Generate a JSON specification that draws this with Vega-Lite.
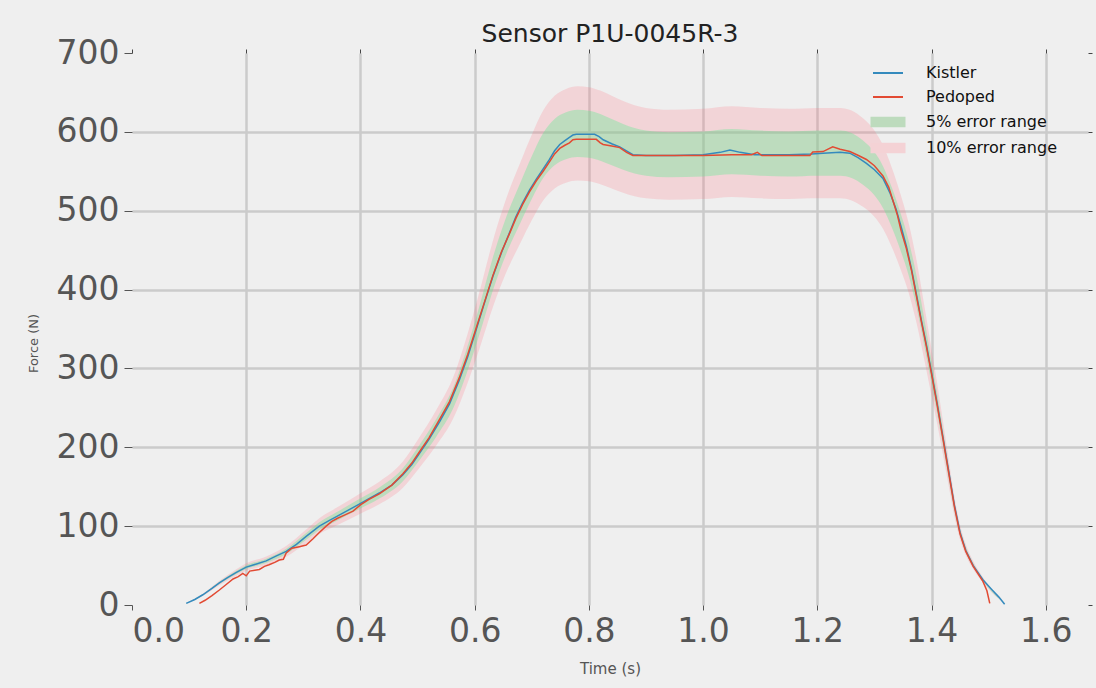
{
  "$schema": "https://vega.github.io/schema/vega-lite/v6.json",
  "autosize": "none",
  "width": 956,
  "height": 552,
  "padding": {"left": 132, "top": 53, "right": 8, "bottom": 83},
  "background": "#efefef",
  "title": {"text": "Sensor P1U-0045R-3", "font": "DejaVu Sans", "fontSize": 25, "fontWeight": "normal", "color": "#222222", "offset": 11, "dy": 41, "baseline": "alphabetic", "anchor": "middle"},
  "config": {
    "view": {"stroke": null, "fill": "#efefef"},
    "font": "DejaVu Sans"
  },
  "resolve": {"axis": {"x": "independent", "y": "independent"}},
  "datasets": {
    "lines": [
      {"t":0.095,"F":2,"s":"Kistler"},{"t":0.11,"F":7,"s":"Kistler"},{"t":0.124,"F":13,"s":"Kistler"},{"t":0.14,"F":21,"s":"Kistler"},{"t":0.153,"F":28,"s":"Kistler"},{"t":0.168,"F":35,"s":"Kistler"},{"t":0.182,"F":41,"s":"Kistler"},{"t":0.2,"F":48,"s":"Kistler"},{"t":0.218,"F":52,"s":"Kistler"},{"t":0.235,"F":56,"s":"Kistler"},{"t":0.252,"F":62,"s":"Kistler"},{"t":0.27,"F":68,"s":"Kistler"},{"t":0.288,"F":77,"s":"Kistler"},{"t":0.305,"F":87,"s":"Kistler"},{"t":0.328,"F":100,"s":"Kistler"},{"t":0.345,"F":107,"s":"Kistler"},{"t":0.358,"F":112,"s":"Kistler"},{"t":0.378,"F":120,"s":"Kistler"},{"t":0.398,"F":128,"s":"Kistler"},{"t":0.415,"F":135,"s":"Kistler"},{"t":0.433,"F":142,"s":"Kistler"},{"t":0.455,"F":152,"s":"Kistler"},{"t":0.474,"F":165,"s":"Kistler"},{"t":0.49,"F":178,"s":"Kistler"},{"t":0.504,"F":193,"s":"Kistler"},{"t":0.52,"F":210,"s":"Kistler"},{"t":0.539,"F":233,"s":"Kistler"},{"t":0.556,"F":255,"s":"Kistler"},{"t":0.573,"F":285,"s":"Kistler"},{"t":0.588,"F":315,"s":"Kistler"},{"t":0.603,"F":350,"s":"Kistler"},{"t":0.618,"F":385,"s":"Kistler"},{"t":0.632,"F":417,"s":"Kistler"},{"t":0.647,"F":447,"s":"Kistler"},{"t":0.661,"F":472,"s":"Kistler"},{"t":0.672,"F":492,"s":"Kistler"},{"t":0.684,"F":510,"s":"Kistler"},{"t":0.696,"F":526,"s":"Kistler"},{"t":0.708,"F":540,"s":"Kistler"},{"t":0.72,"F":553,"s":"Kistler"},{"t":0.731,"F":565,"s":"Kistler"},{"t":0.74,"F":576,"s":"Kistler"},{"t":0.749,"F":584,"s":"Kistler"},{"t":0.758,"F":589,"s":"Kistler"},{"t":0.766,"F":593,"s":"Kistler"},{"t":0.772,"F":596,"s":"Kistler"},{"t":0.778,"F":597,"s":"Kistler"},{"t":0.795,"F":597,"s":"Kistler"},{"t":0.81,"F":597,"s":"Kistler"},{"t":0.818,"F":594,"s":"Kistler"},{"t":0.825,"F":590,"s":"Kistler"},{"t":0.84,"F":585,"s":"Kistler"},{"t":0.854,"F":581,"s":"Kistler"},{"t":0.868,"F":575,"s":"Kistler"},{"t":0.877,"F":571,"s":"Kistler"},{"t":0.9,"F":570,"s":"Kistler"},{"t":0.95,"F":570,"s":"Kistler"},{"t":1.0,"F":571,"s":"Kistler"},{"t":1.03,"F":574,"s":"Kistler"},{"t":1.047,"F":577,"s":"Kistler"},{"t":1.065,"F":574,"s":"Kistler"},{"t":1.09,"F":571,"s":"Kistler"},{"t":1.15,"F":571,"s":"Kistler"},{"t":1.19,"F":572,"s":"Kistler"},{"t":1.21,"F":573,"s":"Kistler"},{"t":1.24,"F":574,"s":"Kistler"},{"t":1.257,"F":573,"s":"Kistler"},{"t":1.272,"F":567,"s":"Kistler"},{"t":1.286,"F":560,"s":"Kistler"},{"t":1.3,"F":552,"s":"Kistler"},{"t":1.315,"F":541,"s":"Kistler"},{"t":1.327,"F":523,"s":"Kistler"},{"t":1.338,"F":502,"s":"Kistler"},{"t":1.347,"F":479,"s":"Kistler"},{"t":1.356,"F":455,"s":"Kistler"},{"t":1.365,"F":426,"s":"Kistler"},{"t":1.373,"F":396,"s":"Kistler"},{"t":1.382,"F":362,"s":"Kistler"},{"t":1.391,"F":330,"s":"Kistler"},{"t":1.4,"F":295,"s":"Kistler"},{"t":1.41,"F":255,"s":"Kistler"},{"t":1.42,"F":213,"s":"Kistler"},{"t":1.43,"F":170,"s":"Kistler"},{"t":1.44,"F":127,"s":"Kistler"},{"t":1.45,"F":92,"s":"Kistler"},{"t":1.46,"F":69,"s":"Kistler"},{"t":1.473,"F":50,"s":"Kistler"},{"t":1.49,"F":32,"s":"Kistler"},{"t":1.505,"F":20,"s":"Kistler"},{"t":1.518,"F":10,"s":"Kistler"},{"t":1.528,"F":1,"s":"Kistler"},
      {"t":0.118,"F":2,"s":"Pedoped"},{"t":0.128,"F":6,"s":"Pedoped"},{"t":0.14,"F":12,"s":"Pedoped"},{"t":0.153,"F":19,"s":"Pedoped"},{"t":0.165,"F":26,"s":"Pedoped"},{"t":0.177,"F":33,"s":"Pedoped"},{"t":0.186,"F":36,"s":"Pedoped"},{"t":0.194,"F":40,"s":"Pedoped"},{"t":0.2,"F":37,"s":"Pedoped"},{"t":0.206,"F":43,"s":"Pedoped"},{"t":0.215,"F":44,"s":"Pedoped"},{"t":0.223,"F":45,"s":"Pedoped"},{"t":0.232,"F":49,"s":"Pedoped"},{"t":0.24,"F":51,"s":"Pedoped"},{"t":0.25,"F":54,"s":"Pedoped"},{"t":0.258,"F":57,"s":"Pedoped"},{"t":0.265,"F":58,"s":"Pedoped"},{"t":0.27,"F":66,"s":"Pedoped"},{"t":0.28,"F":72,"s":"Pedoped"},{"t":0.293,"F":74,"s":"Pedoped"},{"t":0.305,"F":76,"s":"Pedoped"},{"t":0.317,"F":84,"s":"Pedoped"},{"t":0.328,"F":92,"s":"Pedoped"},{"t":0.34,"F":100,"s":"Pedoped"},{"t":0.35,"F":106,"s":"Pedoped"},{"t":0.36,"F":110,"s":"Pedoped"},{"t":0.372,"F":114,"s":"Pedoped"},{"t":0.387,"F":119,"s":"Pedoped"},{"t":0.4,"F":127,"s":"Pedoped"},{"t":0.415,"F":134,"s":"Pedoped"},{"t":0.433,"F":141,"s":"Pedoped"},{"t":0.455,"F":152,"s":"Pedoped"},{"t":0.474,"F":166,"s":"Pedoped"},{"t":0.49,"F":180,"s":"Pedoped"},{"t":0.504,"F":195,"s":"Pedoped"},{"t":0.52,"F":212,"s":"Pedoped"},{"t":0.539,"F":236,"s":"Pedoped"},{"t":0.556,"F":258,"s":"Pedoped"},{"t":0.573,"F":288,"s":"Pedoped"},{"t":0.588,"F":318,"s":"Pedoped"},{"t":0.603,"F":352,"s":"Pedoped"},{"t":0.618,"F":386,"s":"Pedoped"},{"t":0.632,"F":418,"s":"Pedoped"},{"t":0.647,"F":448,"s":"Pedoped"},{"t":0.661,"F":471,"s":"Pedoped"},{"t":0.672,"F":490,"s":"Pedoped"},{"t":0.684,"F":508,"s":"Pedoped"},{"t":0.696,"F":524,"s":"Pedoped"},{"t":0.708,"F":538,"s":"Pedoped"},{"t":0.72,"F":550,"s":"Pedoped"},{"t":0.731,"F":562,"s":"Pedoped"},{"t":0.74,"F":572,"s":"Pedoped"},{"t":0.749,"F":579,"s":"Pedoped"},{"t":0.758,"F":583,"s":"Pedoped"},{"t":0.766,"F":586,"s":"Pedoped"},{"t":0.772,"F":590,"s":"Pedoped"},{"t":0.778,"F":590.5,"s":"Pedoped"},{"t":0.8,"F":590.5,"s":"Pedoped"},{"t":0.813,"F":590.5,"s":"Pedoped"},{"t":0.82,"F":586,"s":"Pedoped"},{"t":0.825,"F":584,"s":"Pedoped"},{"t":0.84,"F":582,"s":"Pedoped"},{"t":0.854,"F":580,"s":"Pedoped"},{"t":0.866,"F":574,"s":"Pedoped"},{"t":0.877,"F":570,"s":"Pedoped"},{"t":0.95,"F":570,"s":"Pedoped"},{"t":1.0,"F":570,"s":"Pedoped"},{"t":1.05,"F":571,"s":"Pedoped"},{"t":1.085,"F":571,"s":"Pedoped"},{"t":1.095,"F":574,"s":"Pedoped"},{"t":1.103,"F":570,"s":"Pedoped"},{"t":1.15,"F":570,"s":"Pedoped"},{"t":1.187,"F":570,"s":"Pedoped"},{"t":1.192,"F":574.5,"s":"Pedoped"},{"t":1.21,"F":575,"s":"Pedoped"},{"t":1.227,"F":581,"s":"Pedoped"},{"t":1.24,"F":578,"s":"Pedoped"},{"t":1.257,"F":575,"s":"Pedoped"},{"t":1.272,"F":570,"s":"Pedoped"},{"t":1.286,"F":565,"s":"Pedoped"},{"t":1.3,"F":557,"s":"Pedoped"},{"t":1.315,"F":544,"s":"Pedoped"},{"t":1.325,"F":530,"s":"Pedoped"},{"t":1.332,"F":514,"s":"Pedoped"},{"t":1.34,"F":495,"s":"Pedoped"},{"t":1.347,"F":474,"s":"Pedoped"},{"t":1.356,"F":452,"s":"Pedoped"},{"t":1.365,"F":424,"s":"Pedoped"},{"t":1.373,"F":394,"s":"Pedoped"},{"t":1.382,"F":360,"s":"Pedoped"},{"t":1.391,"F":328,"s":"Pedoped"},{"t":1.4,"F":293,"s":"Pedoped"},{"t":1.41,"F":253,"s":"Pedoped"},{"t":1.42,"F":211,"s":"Pedoped"},{"t":1.43,"F":168,"s":"Pedoped"},{"t":1.44,"F":125,"s":"Pedoped"},{"t":1.45,"F":90,"s":"Pedoped"},{"t":1.46,"F":68,"s":"Pedoped"},{"t":1.473,"F":49,"s":"Pedoped"},{"t":1.49,"F":30,"s":"Pedoped"},{"t":1.497,"F":18,"s":"Pedoped"},{"t":1.502,"F":2,"s":"Pedoped"}
    ],
    "bands": [
      {"t":0.095,"lo10":1.8,"hi10":2.2,"lo5":1.9,"hi5":2.1},
      {"t":0.124,"lo10":11.7,"hi10":14.3,"lo5":12.35,"hi5":13.65},
      {"t":0.153,"lo10":25.2,"hi10":30.8,"lo5":26.6,"hi5":29.4},
      {"t":0.182,"lo10":36.9,"hi10":45.1,"lo5":38.95,"hi5":43.05},
      {"t":0.2,"lo10":43.2,"hi10":52.8,"lo5":45.6,"hi5":50.4},
      {"t":0.235,"lo10":50.4,"hi10":61.6,"lo5":53.2,"hi5":58.8},
      {"t":0.27,"lo10":61.2,"hi10":74.8,"lo5":64.6,"hi5":71.4},
      {"t":0.305,"lo10":78.3,"hi10":95.7,"lo5":82.65,"hi5":91.35},
      {"t":0.328,"lo10":90,"hi10":110,"lo5":95,"hi5":105},
      {"t":0.358,"lo10":100.8,"hi10":123.2,"lo5":106.4,"hi5":117.6},
      {"t":0.398,"lo10":115.2,"hi10":140.8,"lo5":121.6,"hi5":134.4},
      {"t":0.433,"lo10":127.8,"hi10":156.2,"lo5":134.9,"hi5":149.1},
      {"t":0.474,"lo10":148.5,"hi10":181.5,"lo5":156.75,"hi5":173.25},
      {"t":0.503,"lo10":173.7,"hi10":212.3,"lo5":183.35,"hi5":202.65},
      {"t":0.533,"lo10":202.5,"hi10":247.5,"lo5":213.75,"hi5":236.25},
      {"t":0.562,"lo10":235.8,"hi10":288.2,"lo5":248.9,"hi5":275.1},
      {"t":0.59,"lo10":286.2,"hi10":349.8,"lo5":302.1,"hi5":333.9},
      {"t":0.61,"lo10":328.5,"hi10":401.5,"lo5":346.75,"hi5":383.25},
      {"t":0.632,"lo10":378,"hi10":462,"lo5":399,"hi5":441},
      {"t":0.655,"lo10":421.2,"hi10":514.8,"lo5":444.6,"hi5":491.4},
      {"t":0.68,"lo10":459,"hi10":561,"lo5":484.5,"hi5":535.5},
      {"t":0.7,"lo10":487.8,"hi10":596.2,"lo5":514.9,"hi5":569.1},
      {"t":0.72,"lo10":513,"hi10":627,"lo5":541.5,"hi5":598.5},
      {"t":0.74,"lo10":528.3,"hi10":645.7,"lo5":557.65,"hi5":616.35},
      {"t":0.76,"lo10":535.5,"hi10":654.5,"lo5":565.25,"hi5":624.75},
      {"t":0.78,"lo10":538.2,"hi10":657.8,"lo5":568.1,"hi5":627.9},
      {"t":0.8,"lo10":537.3,"hi10":656.7,"lo5":567.15,"hi5":626.85},
      {"t":0.82,"lo10":533.7,"hi10":652.3,"lo5":563.35,"hi5":622.65},
      {"t":0.84,"lo10":528.3,"hi10":645.7,"lo5":557.65,"hi5":616.35},
      {"t":0.86,"lo10":522.9,"hi10":639.1,"lo5":551.95,"hi5":610.05},
      {"t":0.88,"lo10":518.4,"hi10":633.6,"lo5":547.2,"hi5":604.8},
      {"t":0.9,"lo10":515.7,"hi10":630.3,"lo5":544.35,"hi5":601.65},
      {"t":0.94,"lo10":513.9,"hi10":628.1,"lo5":542.45,"hi5":599.55},
      {"t":1.0,"lo10":514.8,"hi10":629.2,"lo5":543.4,"hi5":600.6},
      {"t":1.05,"lo10":517.5,"hi10":632.5,"lo5":546.25,"hi5":603.75},
      {"t":1.1,"lo10":515.7,"hi10":630.3,"lo5":544.35,"hi5":601.65},
      {"t":1.15,"lo10":514.8,"hi10":629.2,"lo5":543.4,"hi5":600.6},
      {"t":1.2,"lo10":515.7,"hi10":630.3,"lo5":544.35,"hi5":601.65},
      {"t":1.24,"lo10":515.7,"hi10":630.3,"lo5":544.35,"hi5":601.65},
      {"t":1.26,"lo10":513,"hi10":627,"lo5":541.5,"hi5":598.5},
      {"t":1.28,"lo10":504.9,"hi10":617.1,"lo5":532.95,"hi5":589.05},
      {"t":1.3,"lo10":492.3,"hi10":601.7,"lo5":519.65,"hi5":574.35},
      {"t":1.315,"lo10":477,"hi10":583,"lo5":503.5,"hi5":556.5},
      {"t":1.33,"lo10":454.5,"hi10":555.5,"lo5":479.75,"hi5":530.25},
      {"t":1.345,"lo10":427.5,"hi10":522.5,"lo5":451.25,"hi5":498.75},
      {"t":1.36,"lo10":396,"hi10":484,"lo5":418,"hi5":462},
      {"t":1.373,"lo10":360,"hi10":440,"lo5":380,"hi5":420},
      {"t":1.39,"lo10":301.5,"hi10":368.5,"lo5":318.25,"hi5":351.75},
      {"t":1.4,"lo10":265.5,"hi10":324.5,"lo5":280.25,"hi5":309.75},
      {"t":1.41,"lo10":229.5,"hi10":280.5,"lo5":242.25,"hi5":267.75},
      {"t":1.42,"lo10":190.8,"hi10":233.2,"lo5":201.4,"hi5":222.6},
      {"t":1.43,"lo10":151.2,"hi10":184.8,"lo5":159.6,"hi5":176.4},
      {"t":1.44,"lo10":112.5,"hi10":137.5,"lo5":118.75,"hi5":131.25},
      {"t":1.45,"lo10":82.8,"hi10":101.2,"lo5":87.4,"hi5":96.6},
      {"t":1.46,"lo10":63,"hi10":77,"lo5":66.5,"hi5":73.5},
      {"t":1.475,"lo10":43.2,"hi10":52.8,"lo5":45.6,"hi5":50.4},
      {"t":1.49,"lo10":28.8,"hi10":35.2,"lo5":30.4,"hi5":33.6},
      {"t":1.505,"lo10":16.2,"hi10":19.8,"lo5":17.1,"hi5":18.9},
      {"t":1.528,"lo10":1.8,"hi10":2.2,"lo5":1.9,"hi5":2.1}
    ]
  },
  "layer": [
    {
      "data": {"name": "bands"},
      "mark": {"type": "area", "color": "#ff6877", "opacity": 0.2, "interpolate": "monotone"},
      "encoding": {
        "x": {
          "field": "t", "type": "quantitative",
          "scale": {"domain": [0, 1.674], "nice": false, "zero": false},
          "axis": {
            "title": "Time (s)", "titleFont": "DejaVu Sans", "titleFontSize": 15, "titleFontWeight": "normal", "titleColor": "#555555", "titlePadding": 13,
            "values": [0, 0.2, 0.4, 0.6, 0.8, 1.0, 1.2, 1.4, 1.6], "format": ".1f",
            "labelFont": "DejaVu Sans", "labelFontSize": 33, "labelColor": "#555555", "labelPadding": 5,
            "domain": false, "ticks": true, "tickSize": 5, "tickColor": "#555555", "tickWidth": 1,
            "grid": true, "gridColor": "#cbcbcb", "gridWidth": 2.5,
            "gridOpacity": {"condition": {"test": "datum.value == 0", "value": 0}, "value": 1}
          }
        },
        "y": {
          "field": "lo10", "type": "quantitative",
          "scale": {"domain": [0, 700], "nice": false},
          "axis": {
            "title": "Force (N)", "titleFont": "DejaVu Sans", "titleFontSize": 13, "titleFontWeight": "normal", "titleColor": "#555555",
            "titleX": -99, "titleY": 290, "titleAlign": "center", "titleBaseline": "middle", "titleAngle": 270,
            "values": [0, 100, 200, 300, 400, 500, 600, 700], "format": "d",
            "labelFont": "DejaVu Sans", "labelFontSize": 33, "labelColor": "#555555", "labelPadding": 5,
            "domain": false, "ticks": true, "tickSize": 8, "tickColor": "#555555", "tickWidth": 1,
            "grid": true, "gridColor": "#cbcbcb", "gridWidth": 2.5,
            "gridOpacity": {"condition": {"test": "datum.value == 0 || datum.value == 700", "value": 0}, "value": 1}
          }
        },
        "y2": {"field": "hi10"}
      }
    },
    {
      "data": {"name": "bands"},
      "mark": {"type": "area", "color": "#5deb90", "opacity": 0.35, "interpolate": "monotone"},
      "encoding": {
        "x": {"field": "t", "type": "quantitative", "axis": null},
        "y": {"field": "lo5", "type": "quantitative", "axis": null},
        "y2": {"field": "hi5"}
      }
    },
    {
      "data": {"name": "lines"},
      "mark": {"type": "line", "strokeWidth": 1.5},
      "encoding": {
        "x": {
          "field": "t", "type": "quantitative",
          "axis": {"orient": "top", "title": null, "labels": false, "domain": false, "grid": false, "ticks": true, "tickSize": 4, "tickColor": "#444444", "tickWidth": 1, "values": [0, 0.2, 0.4, 0.6, 0.8, 1.0, 1.2, 1.4, 1.6]}
        },
        "y": {
          "field": "F", "type": "quantitative",
          "axis": {"orient": "right", "title": null, "labels": false, "domain": false, "grid": false, "ticks": true, "tickSize": 4, "tickColor": "#444444", "tickWidth": 1, "values": [0, 100, 200, 300, 400, 500, 600, 700]}
        },
        "color": {
          "field": "s", "type": "nominal",
          "scale": {
            "domain": ["Kistler", "Pedoped", "5% error range", "10% error range"],
            "range": ["#348ABD", "#E24A33", "#bddbbd", "#f4d2d5"]
          },
          "legend": {
            "title": null, "orient": "none", "legendX": 748, "legendY": 12,
            "labelFont": "DejaVu Sans", "labelFontSize": 16, "labelColor": "#111111", "labelOffset": 30,
            "symbolSize": 100, "rowPadding": 8,
            "encode": {
              "symbols": {
                "update": {
                  "shape": {"signal": "datum.value == 'Kistler' || datum.value == 'Pedoped' ? 'M-3,0H3' : 'M-3.3,-0.85H3.3V0.85H-3.3Z'"},
                  "fill": {"signal": "datum.value == '5% error range' ? '#bddbbd' : datum.value == '10% error range' ? '#f4d2d5' : 'transparent'"},
                  "stroke": {"signal": "datum.value == 'Kistler' ? '#348ABD' : datum.value == 'Pedoped' ? '#E24A33' : 'transparent'"},
                  "strokeWidth": {"value": 2},
                  "opacity": {"value": 1},
                  "fillOpacity": {"value": 1},
                  "strokeOpacity": {"value": 1}
                }
              }
            }
          }
        }
      }
    }
  ]
}
